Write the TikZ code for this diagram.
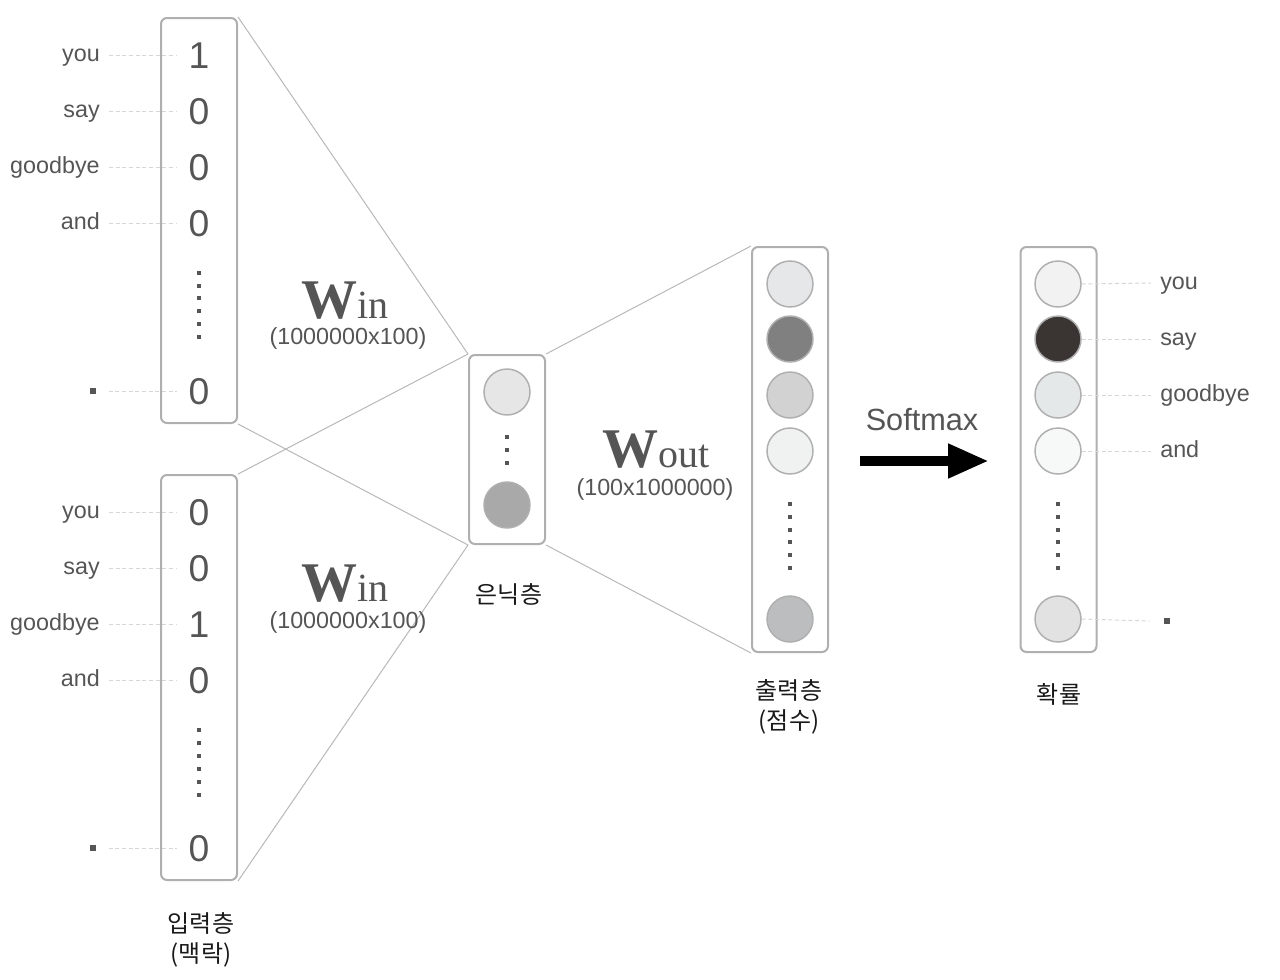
\documentclass[tikz,border=0pt]{standalone}
\usepackage{fontspec}
\setmainfont{Liberation Sans}
\newfontfamily\kr{Noto Sans CJK KR}
\newfontfamily\wser{Liberation Serif}
\usetikzlibrary{arrows.meta,calc}
\definecolor{txt}{HTML}{555555}
\definecolor{edgec}{HTML}{AFAFAF}
\definecolor{connc}{HTML}{B8B8B8}
\definecolor{dashc}{HTML}{D6D6D6}
\definecolor{hA}{HTML}{E6E6E6}
\definecolor{hB}{HTML}{A9A9A9}
\definecolor{oA}{HTML}{E6E7E8}
\definecolor{oB}{HTML}{808080}
\definecolor{oC}{HTML}{D2D2D2}
\definecolor{oD}{HTML}{F0F1F1}
\definecolor{oE}{HTML}{BCBDBE}
\definecolor{pA}{HTML}{F2F2F2}
\definecolor{pB}{HTML}{3A3532}
\definecolor{pC}{HTML}{E5E8E9}
\definecolor{pD}{HTML}{F7F8F8}
\definecolor{pE}{HTML}{E2E2E2}
\begin{document}
\begin{tikzpicture}[x=0.75pt,y=-0.75pt,
  layerbox/.style={draw=edgec, line width=1.5pt, rounded corners=4.5pt, minimum width=57pt, inner sep=0pt},
  unit/.style={circle, draw=edgec, line width=1.1pt, minimum size=34.5pt, inner sep=0pt},
  word/.style={text=txt, font=\fontsize{17.5}{20}\selectfont, inner sep=0pt, text height=9pt, text depth=0pt},
  digit/.style={text=txt, font=\fontsize{28}{30}\selectfont, inner sep=0pt, text height=20pt, text depth=0pt},
  guide/.style={draw=dashc, line width=0.75pt, dash pattern=on 3pt off 2pt},
  conn/.style={draw=connc, line width=0.75pt},
  bullet/.style={fill=txt, minimum size=5pt, inner sep=0pt},
  krlab/.style={font=\kr\fontsize{18}{22.5}\selectfont, text=black!90, align=center, inner sep=0pt},
  sub/.style={text=txt, font=\fontsize{17.5}{20}\selectfont, inner sep=0pt},
  wlab/.style={text=txt, inner sep=0pt}
]
\useasboundingbox (0,0) rectangle (1280,979);

% ---------- boxes ----------
\node[layerbox, minimum height=303.75pt] (in1) at (199,220.5) {};
\node[layerbox, minimum height=303.75pt] (in2) at (199,677.5) {};
\node[layerbox, minimum height=141.75pt] (hid) at (507,449.5) {};
\node[layerbox, minimum height=303.75pt] (out) at (790,449.5) {};
\node[layerbox, minimum height=303.75pt] (prob) at (1058.5,449.5) {};

% ---------- connectors ----------
\draw[conn] (in1.north east) -- (hid.north west);
\draw[conn] (in1.south east) -- (hid.south west);
\draw[conn] (in2.north east) -- (hid.north west);
\draw[conn] (in2.south east) -- (hid.south west);
\draw[conn] (hid.north east) -- (out.north west);
\draw[conn] (hid.south east) -- (out.south west);

% ---------- input 1 ----------
\foreach \n/\w/\d/\y in {a/you/1/55, b/say/0/111, c/goodbye/0/167, d/and/0/223}{
  \node[word, anchor=east] (i1w\n) at (100,\y) {\w};
  \node[digit] (i1d\n) at (199,\y) {\d};
  \draw[guide] ($(i1w\n.east)+(9,0)$) -- ($(i1d\n.west)+(-11,0)$);
}
\node[bullet] (i1we) at (93,391) {};
\node[digit] (i1de) at (199,391) {0};
\draw[guide] ($(i1we.east)+(12,0)$) -- ($(i1de.west)+(-11,0)$);
\foreach \y in {273,286,298,311,324,337}{\fill[txt] (197,\y-2) rectangle (201,\y+2);}

% ---------- input 2 ----------
\foreach \n/\w/\d/\y in {a/you/0/512, b/say/0/568, c/goodbye/1/624, d/and/0/680}{
  \node[word, anchor=east] (i2w\n) at (100,\y) {\w};
  \node[digit] (i2d\n) at (199,\y) {\d};
  \draw[guide] ($(i2w\n.east)+(9,0)$) -- ($(i2d\n.west)+(-11,0)$);
}
\node[bullet] (i2we) at (93,848) {};
\node[digit] (i2de) at (199,848) {0};
\draw[guide] ($(i2we.east)+(12,0)$) -- ($(i2de.west)+(-11,0)$);
\foreach \y in {730,743,756,769,782,795}{\fill[txt] (197,\y-2) rectangle (201,\y+2);}

% ---------- hidden ----------
\node[unit, fill=hA] (h1) at (507,392) {};
\node[unit, fill=hB] (h2) at (507,505) {};
\foreach \y in {437,450,463}{\fill[txt] (505,\y-2) rectangle (509,\y+2);}

% ---------- output ----------
\node[unit, fill=oA] (o1) at (790,284) {};
\node[unit, fill=oB] (o2) at (790,339) {};
\node[unit, fill=oC] (o3) at (790,395) {};
\node[unit, fill=oD] (o4) at (790,451) {};
\node[unit, fill=oE] (o5) at (790,619) {};
\foreach \y in {504,517,530,542,555,568}{\fill[txt] (788,\y-2) rectangle (792,\y+2);}

% ---------- probabilities ----------
\node[unit, fill=pA] (p1) at (1058,284) {};
\node[unit, fill=pB] (p2) at (1058,339) {};
\node[unit, fill=pC] (p3) at (1058,395) {};
\node[unit, fill=pD] (p4) at (1058,451) {};
\node[unit, fill=pE] (p5) at (1058,619) {};
\foreach \y in {504,517,530,542,555,568}{\fill[txt] (1056,\y-2) rectangle (1060,\y+2);}
\foreach \n/\w/\y in {1/you/283, 2/say/339, 3/goodbye/395, 4/and/451}{
  \node[word, anchor=west] (pw\n) at (1160,\y) {\w};
  \draw[guide] (p\n.east) -- ($(pw\n.west)+(-9,0)$);
}
\node[bullet] (pw5) at (1167,621) {};
\draw[guide] (p5.east) -- ($(pw5.west)+(-14,0)$);

% ---------- weight labels ----------
\node[wlab, anchor=base] (win1) at (345,318) {{\wser\bfseries\fontsize{42}{42}\selectfont W}{\wser\fontsize{30}{30}\selectfont in}};
\node[sub, anchor=base] (win1s) at (348,344) {(1000000x100)};
\node[wlab, anchor=base] (win2) at (345,601) {{\wser\bfseries\fontsize{42}{42}\selectfont W}{\wser\fontsize{30}{30}\selectfont in}};
\node[sub, anchor=base] (win2s) at (348,628) {(1000000x100)};
\node[wlab, anchor=base] (wout) at (656,467) {{\wser\bfseries\fontsize{42}{42}\selectfont W}{\wser\fontsize{30}{30}\selectfont out}};
\node[sub, anchor=base] (wouts) at (655,495) {(100x1000000)};

% ---------- softmax ----------
\node[text=txt, font=\fontsize{23}{26}\selectfont, inner sep=0pt] (sm) at (922,420) {Softmax};
\coordinate (ar1) at (860,461);
\coordinate (ar2) at (989,461);
\draw[line width=8pt, -{Triangle[length=30.75pt, width=24pt]}] (ar1) -- (ar2);

% ---------- layer names ----------
\node[krlab] (lhid) at (509,594) {은닉층};
\node[krlab] (lout) at (789,707) {출력층\\(점수)};
\node[krlab] (lprob) at (1059,694) {확률};
\node[krlab] (lin) at (201,940) {입력층\\(맥락)};
\end{tikzpicture}
\end{document}
